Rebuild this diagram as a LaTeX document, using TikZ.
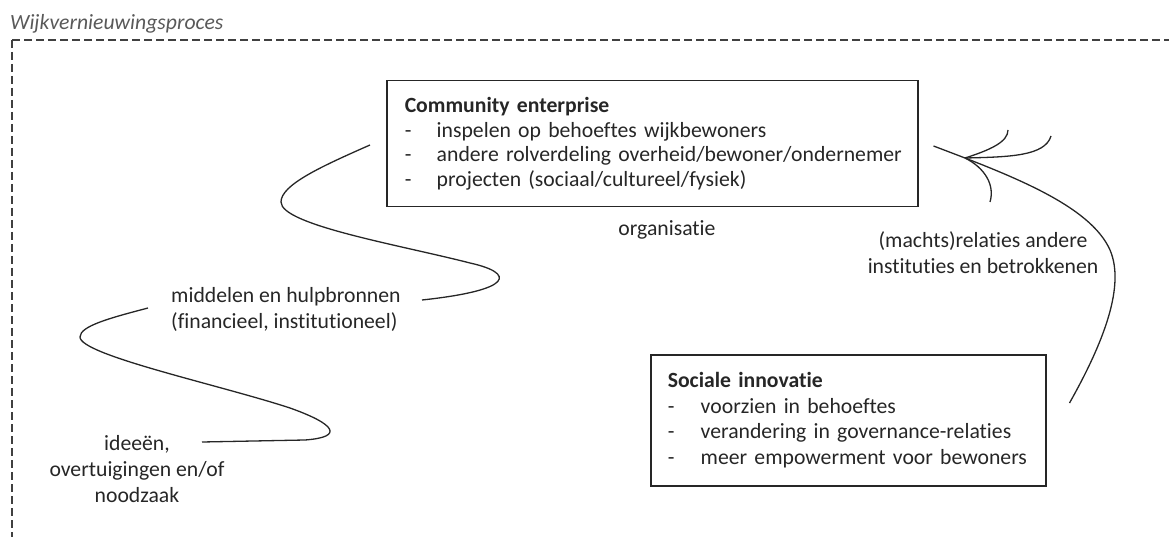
\documentclass[tikz,border=0pt]{standalone}
\usepackage{fontspec}
\setmainfont{Carlito}[Ligatures=NoCommon]
\begin{document}
\begin{tikzpicture}[x=1pt,y=-1pt,
  txt/.style={inner sep=0pt, font=\fontsize{21.7}{26}\selectfont, text=black!85},
  box/.style={draw=black!85, line width=1.5pt, inner xsep=18pt, inner ysep=0pt,
    align=left, anchor=north west, text=black!85},
  conn/.style={draw=black!85, line width=1.3pt},
  frame/.style={draw=black!75, line width=1.5pt, dash pattern=on 8pt off 4pt}]
\useasboundingbox (0,0) rectangle (1169,537);

% outer dashed frame and its title
\node[txt, anchor=base west, text=black!65, font=\fontsize{21.7}{26}\selectfont\itshape] (title) at (10,30) {Wijkvernieuwingsproces};
\coordinate (corner) at (12,40);
\coordinate (frameR) at (1169,40);
\coordinate (frameB) at (12,537);
\draw[frame] (corner) -- (frameR);
\draw[frame] (corner) -- (frameB);

% boxes
\node[box, font=\fontsize{21.7}{24.4}\selectfont, text width=495pt, minimum width=531pt, minimum height=126pt] (ce) at (386,80)
 {\mbox{\textbf{Community enterprise}}\\
  \mbox{\makebox[32pt][l]{-}inspelen op behoeftes wijkbewoners}\\
  \mbox{\makebox[32pt][l]{-}andere rolverdeling overheid/bewoner/ondernemer}\\
  \mbox{\makebox[32pt][l]{-}projecten (sociaal/cultureel/fysiek)}};

\node[box, font=\fontsize{21.7}{25.7}\selectfont, inner xsep=17pt, text width=361pt, minimum width=395pt, minimum height=131pt] (si) at (650,354)
 {\mbox{\textbf{Sociale innovatie}}\\
  \mbox{\makebox[33pt][l]{-}voorzien in behoeftes}\\
  \mbox{\makebox[33pt][l]{-}verandering in governance-relaties}\\
  \mbox{\makebox[33pt][l]{-}meer empowerment voor bewoners}};

% labels
\node[txt] (org) at (667,230) {organisatie};
\node[txt, align=left, anchor=west] (mid) at (171,309) {middelen en hulpbronnen\\(financieel, institutioneel)};
\node[txt, align=center] (idee) at (137,469) {ideeën,\\overtuigingen en/of\\noodzaak};
\node[txt, align=center] (macht) at (983,253) {(machts)relaties andere\\instituties en betrokkenen};

% connector: middelen -> community enterprise
\coordinate (c1a) at ([xshift=-16pt]ce.west |- 0,145);
\coordinate (c1b) at (422,300);
\draw[conn] (c1a) .. controls (320,167) and (281,185) .. (281,202)
  .. controls (281,225) and (400,245) .. (470,263)
  .. controls (515,273) and (515,290) .. (c1b);

% connector: ideeen -> middelen
\coordinate (c2a) at ([xshift=-23pt]mid.west |- 0,308);
\coordinate (c2b) at (202,442);
\draw[conn] (c2a) .. controls (110,318) and (80,326) .. (80,337)
  .. controls (80,355) and (220,385) .. (290,408)
  .. controls (335,424) and (345,437) .. (305,440) -- (c2b);

% connector: sociale innovatie -> community enterprise, with arrow strokes
\coordinate (c3a) at ([xshift=23pt]si.east |- 0,403);
\coordinate (c3b) at ([xshift=15pt]ce.east |- 0,146);
\coordinate (tip) at (965,158);
\draw[conn] (c3a) .. controls (1105,340) and (1125,285) .. (1110,250)
  .. controls (1090,205) and (1010,175) .. (c3b);
\draw[conn] (tip) .. controls (990,150) and (1008,142) .. (1008,130);
\draw[conn] (tip) .. controls (1010,157) and (1045,156) .. (1051,136);
\draw[conn] (tip) .. controls (985,168) and (995,185) .. (990,202);
\end{tikzpicture}
\end{document}
